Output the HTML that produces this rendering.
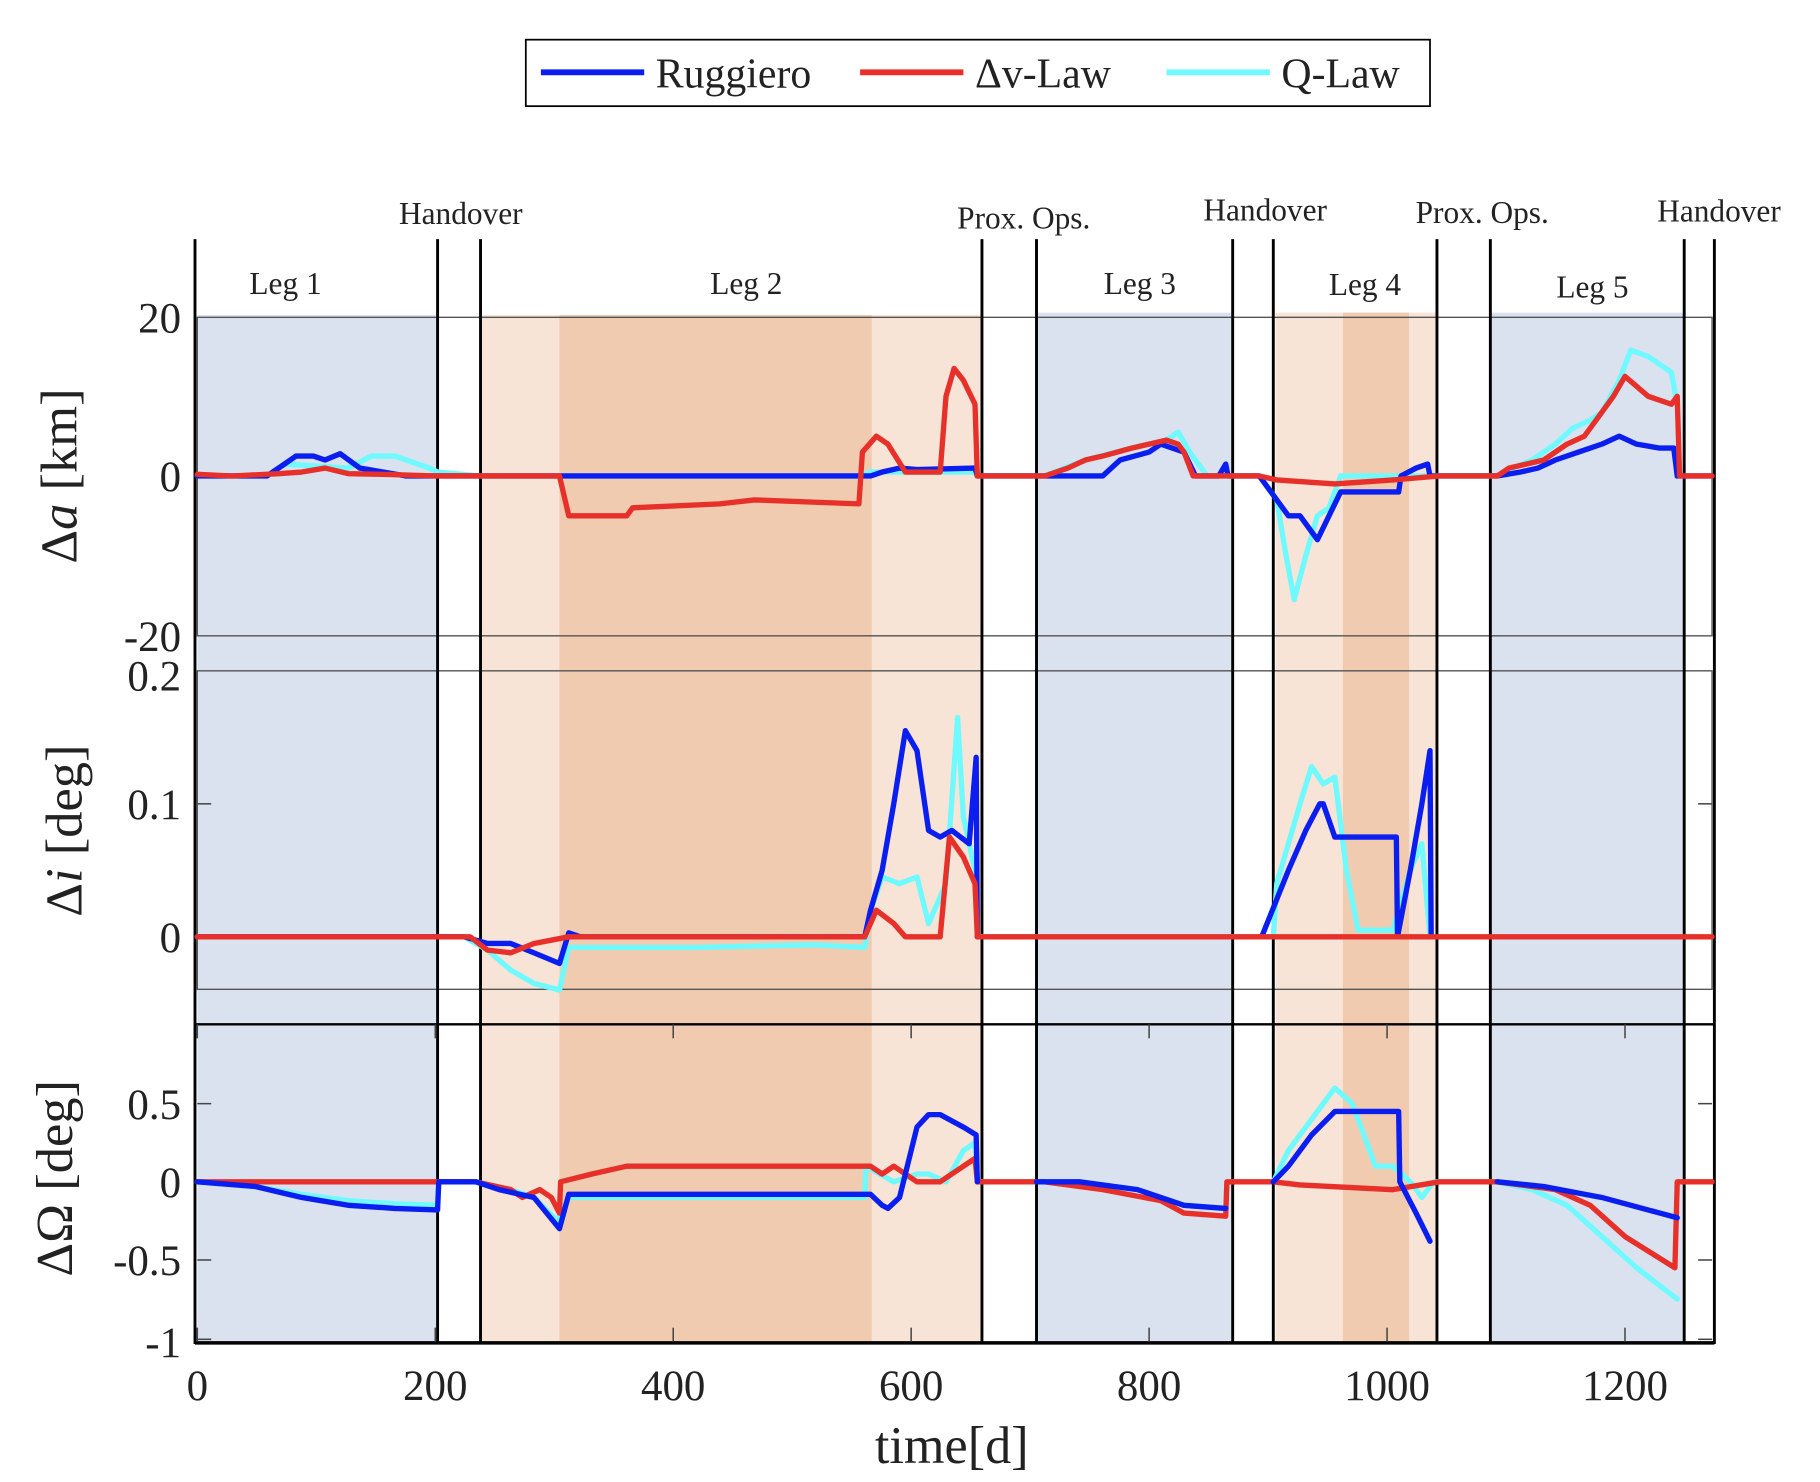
<!DOCTYPE html>
<html><head><meta charset="utf-8"><style>
html,body{margin:0;padding:0;background:#fff;}
svg{display:block;}
text{font-family:"Liberation Serif",serif;fill:#222;}
</style></head><body>
<svg id="s" width="1820" height="1482" viewBox="0 0 1568 1270.3" preserveAspectRatio="none" xmlns="http://www.w3.org/2000/svg">
<g>
<rect x="170" y="270" width="207" height="880" fill="#dbe2ef"/>
<rect x="414" y="270" width="432" height="880" fill="#f7e4d6"/>
<rect x="482" y="270" width="269" height="880" fill="#f0cbb0"/>
<rect x="893" y="268" width="169" height="882" fill="#dbe2ef"/>
<rect x="1099" y="268" width="139" height="882" fill="#f7e4d6"/>
<rect x="1157" y="268" width="57" height="882" fill="#f0cbb0"/>
<rect x="1284" y="268" width="167" height="882" fill="#dbe2ef"/>
</g>
<g fill="none" stroke="#555" stroke-width="1.2">
<rect x="170" y="272" width="1305" height="273"/>
<rect x="170" y="575" width="1305" height="273"/>
</g>
<line x1="168" y1="878" x2="1477" y2="878" stroke="#000" stroke-width="2"/>
<line x1="168" y1="1151" x2="1477" y2="1151" stroke="#000" stroke-width="3"/>
<g stroke="#000" stroke-width="2.5">
<line x1="168" y1="205" x2="168" y2="1152"/>
<line x1="377" y1="205" x2="377" y2="1150"/>
<line x1="414" y1="205" x2="414" y2="1150"/>
<line x1="846" y1="205" x2="846" y2="1150"/>
<line x1="893" y1="205" x2="893" y2="1150"/>
<line x1="1062" y1="205" x2="1062" y2="1150"/>
<line x1="1097" y1="205" x2="1097" y2="1150"/>
<line x1="1238" y1="205" x2="1238" y2="1150"/>
<line x1="1284" y1="205" x2="1284" y2="1150"/>
<line x1="1451" y1="205" x2="1451" y2="1150"/>
<line x1="1477" y1="205" x2="1477" y2="1152"/>
</g>
<g id="ticks" stroke="#444" stroke-width="1.3"></g>
<g id="series" fill="none" stroke-width="4.6" stroke-linejoin="round" stroke-linecap="round"></g>
<g font-size="27" text-anchor="middle">
<text x="397" y="192">Handover</text>
<text x="882" y="196">Prox. Ops.</text>
<text x="1090" y="189">Handover</text>
<text x="1277" y="191">Prox. Ops.</text>
<text x="1481" y="190">Handover</text>
<text x="246" y="252">Leg 1</text>
<text x="643" y="252">Leg 2</text>
<text x="982" y="252">Leg 3</text>
<text x="1176" y="253">Leg 4</text>
<text x="1372" y="255">Leg 5</text>
</g>
<g font-size="37" text-anchor="end">
<text x="156" y="285">20</text>
<text x="156" y="421">0</text>
<text x="156" y="558">-20</text>
<text x="156" y="592">0.2</text>
<text x="156" y="702">0.1</text>
<text x="156" y="816">0</text>
<text x="156" y="959">0.5</text>
<text x="156" y="1026">0</text>
<text x="156" y="1093">-0.5</text>
<text x="156" y="1163">-1</text>
</g>
<g font-size="37" text-anchor="middle">
<text x="170" y="1200">0</text>
<text x="375" y="1200">200</text>
<text x="580" y="1200">400</text>
<text x="785" y="1200">600</text>
<text x="990" y="1200">800</text>
<text x="1195" y="1200">1000</text>
<text x="1400" y="1200">1200</text>
<text x="820" y="1254" font-size="45">time[d]</text>
</g>
<g font-size="45" text-anchor="middle">
<text transform="translate(66,408) rotate(-90)">Δ<tspan font-style="italic">a</tspan> [km]</text>
<text transform="translate(70,712) rotate(-90)">Δ<tspan font-style="italic">i</tspan> [deg]</text>
<text transform="translate(62,1010) rotate(-90)">ΔΩ [deg]</text>
</g>
<rect x="453" y="34" width="779" height="57" fill="#fff" stroke="#000" stroke-width="1.5"/>
<line x1="466" y1="62" x2="555" y2="62" stroke="#0a1ef0" stroke-width="5"/>
<text x="565" y="75" font-size="36">Ruggiero</text>
<line x1="741" y1="62" x2="830" y2="62" stroke="#e8302a" stroke-width="5"/>
<text x="840" y="75" font-size="36">Δv-Law</text>
<line x1="1005" y1="62" x2="1094" y2="62" stroke="#70faff" stroke-width="5"/>
<text x="1104" y="75" font-size="36">Q-Law</text>
</svg>
<script>
const NS="http://www.w3.org/2000/svg";
const ya=v=>408-v*6.83, yi=v=>803-v*1140, yo=v=>1013-v*134;
const B="#0a1ef0",R="#e8302a",C="#70faff";
function P(pts,f,col){const g=document.getElementById('series');const p=document.createElementNS(NS,'polyline');
p.setAttribute('points',pts.map(q=>q[0]+','+f(q[1]).toFixed(1)).join(' '));p.setAttribute('stroke',col);g.appendChild(p);}
P([[170,0],[230,0],[245,1.5],[300,1],[320,2.5],[340,2.5],[370,1],[377,0.5],[414,0],[740,0],[750,0.5],[840,0.5],[842,0],[900,0],[935,2],[975,3.5],[1005,4.5],[1015,5.5],[1025,3],[1040,0],[1085,0],[1100,-3],[1108,-10],[1115,-15.5],[1125,-10],[1135,-5],[1145,-4],[1155,0],[1210,0],[1290,0],[1295,0.5],[1320,2],[1340,4],[1355,6],[1370,7],[1380,8],[1395,12],[1405,15.8],[1420,15],[1440,13],[1445,9]],ya,C);
P([[170,0],[230,0],[245,1.5],[255,2.5],[270,2.5],[280,2],[293,2.8],[310,1],[330,0.5],[350,0],[750,0],[760,0.5],[775,1],[790,0.8],[840,1],[842,0],[950,0],[965,2],[990,3],[1000,4],[1010,3.5],[1020,3],[1030,0],[1050,0],[1056,1.5],[1058,0],[1085,0],[1100,-3],[1110,-5],[1120,-5],[1130,-7],[1135,-8],[1145,-5],[1155,-2],[1205,-2],[1207,0],[1220,1],[1230,1.5],[1232,0],[1290,0],[1310,0.5],[1325,1],[1340,2],[1360,3],[1380,4],[1395,5],[1410,4],[1430,3.5],[1442,3.5],[1445,0],[1475,0]],ya,B);
P([[170,0.2],[200,0],[240,0.3],[260,0.5],[280,1],[300,0.3],[330,0.2],[377,0],[482,0],[490,-5],[540,-5],[545,-4],[620,-3.5],[650,-3],[740,-3.5],[743,3],[755,5],[765,4],[780,0.5],[810,0.5],[815,10],[822,13.5],[830,12],[840,9],[842,0],[900,0],[920,1],[935,2],[950,2.5],[975,3.5],[1005,4.5],[1015,4],[1020,3],[1028,0],[1085,0],[1100,-0.5],[1150,-1],[1200,-0.5],[1240,0],[1290,0],[1300,1],[1330,2],[1350,4],[1365,5],[1380,8],[1390,10],[1400,12.5],[1420,10],[1440,9],[1445,10],[1447,0],[1475,0]],ya,R);
P([[170,0],[400,0],[420,-0.01],[440,-0.025],[460,-0.035],[482,-0.04],[490,-0.008],[600,-0.008],[700,-0.006],[745,-0.008],[750,0.02],[760,0.045],[775,0.04],[790,0.045],[800,0.01],[815,0.04],[825,0.165],[830,0.09],[840,0.05],[842,0],[1097,0],[1100,0.04],[1120,0.1],[1130,0.128],[1140,0.115],[1150,0.12],[1160,0.05],[1170,0.005],[1200,0.005],[1215,0.05],[1225,0.07],[1232,0]],yi,C);
P([[170,0],[400,0],[420,-0.005],[440,-0.005],[460,-0.012],[482,-0.02],[490,0.003],[500,0],[745,0],[750,0.02],[760,0.05],[770,0.1],[780,0.155],[790,0.14],[800,0.08],[810,0.075],[820,0.08],[835,0.07],[841,0.135],[842,0]],yi,B);
P([[1087,0],[1110,0.05],[1125,0.08],[1137,0.1],[1140,0.1],[1150,0.075],[1203,0.075],[1204,0],[1215,0.05],[1225,0.1],[1232,0.14],[1233,0]],yi,B);
P([[170,0],[405,0],[420,-0.01],[440,-0.012],[460,-0.005],[490,0],[745,0],[755,0.02],[770,0.01],[780,0],[810,0],[818,0.075],[830,0.06],[840,0.04],[842,0],[1475,0]],yi,R);
P([[170,0],[220,-0.03],[260,-0.08],[300,-0.12],[340,-0.14],[377,-0.15],[378,0],[410,0],[440,-0.05],[460,-0.1],[480,-0.25],[490,-0.1],[745,-0.1],[746,0.1],[770,0],[790,0.05],[800,0.05],[815,0],[830,0.2],[840,0.25],[842,0],[930,0],[980,-0.05],[1020,-0.15],[1056,-0.17],[1057,0],[1097,0],[1110,0.2],[1140,0.5],[1150,0.6],[1165,0.5],[1185,0.1],[1200,0.1],[1215,0],[1225,-0.1],[1235,0],[1290,0],[1320,-0.05],[1350,-0.15],[1380,-0.35],[1410,-0.55],[1445,-0.75]],yo,C);
P([[170,0],[410,0],[440,-0.05],[450,-0.1],[465,-0.05],[475,-0.1],[482,-0.2],[483,0],[510,0.05],[540,0.1],[745,0.1],[750,0.1],[760,0.05],[770,0.1],[790,0],[810,0],[840,0.15],[842,0],[900,0],[950,-0.05],[1000,-0.12],[1020,-0.2],[1056,-0.22],[1057,0],[1097,0],[1120,-0.02],[1200,-0.05],[1240,0],[1290,0],[1340,-0.05],[1370,-0.15],[1400,-0.35],[1443,-0.55],[1445,0],[1475,0]],yo,R);
P([[170,0],[220,-0.03],[260,-0.1],[300,-0.15],[340,-0.17],[377,-0.18],[378,0],[410,0],[430,-0.05],[460,-0.1],[482,-0.3],[490,-0.08],[750,-0.08],[760,-0.15],[765,-0.17],[775,-0.1],[790,0.35],[800,0.43],[810,0.43],[830,0.35],[841,0.3],[842,0]],yo,B);
P([[893,0],[930,0],[980,-0.05],[1020,-0.15],[1056,-0.17]],yo,B);
P([[1097,0],[1110,0.1],[1130,0.3],[1150,0.45],[1205,0.45],[1206,0],[1220,-0.2],[1232,-0.38]],yo,B);
P([[1290,0],[1330,-0.03],[1380,-0.1],[1430,-0.2],[1445,-0.23]],yo,B);
const t=document.getElementById('ticks');
function L(x1,y1,x2,y2){const l=document.createElementNS(NS,'line');l.setAttribute('x1',x1);l.setAttribute('y1',y1);l.setAttribute('x2',x2);l.setAttribute('y2',y2);t.appendChild(l);}
[170,375,580,785,990,1195,1400].forEach(x=>{L(x,1150,x,1138);L(x,878,x,890);});
[946,1013,1080,1148].forEach(y=>{L(170,y,182,y);L(1475,y,1463,y);});
[689,803].forEach(y=>{L(170,y,182,y);L(1475,y,1463,y);});
[408].forEach(y=>{L(170,y,182,y);L(1475,y,1463,y);});
</script>
</body></html>
